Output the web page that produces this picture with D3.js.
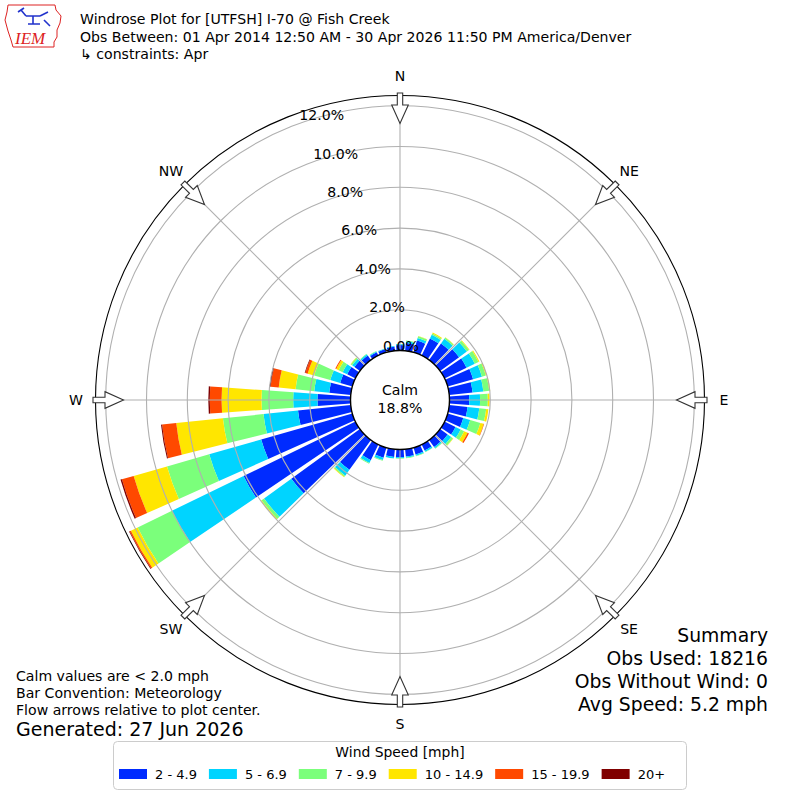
<!DOCTYPE html>
<html>
<head>
<meta charset="utf-8">
<script src="https://cdn.jsdelivr.net/npm/d3@7"></script>
<style>
    body { margin: 0; background: #fff; }
    svg { font-family: "DejaVu Sans", sans-serif; }
</style>
</head>
<body>
<script>
// wind direction bins (deg, where the wind blows from)
var directions = [0, 10, 20, 30, 40, 50, 60, 70, 80, 90, 100, 110, 120, 130, 140, 150, 160, 170,
    180, 190, 200, 210, 220, 230, 240, 250, 260, 270, 280, 290, 300, 310, 320, 330, 340, 350]

var speedBins = ['2 - 4.9', '5 - 6.9', '7 - 9.9', '10 - 14.9', '15 - 19.9', '20+']
var binColors = ['#002bff', '#00d4ff', '#7bff7b', '#ffe600', '#ff4900', '#800000']

// percent of observations per direction, one list per speed bin
var spd2to5 = [0.27, 0.38, 0.60, 0.93, 1.00, 1.15, 1.20, 1.30, 1.15, 0.97, 0.90, 0.80, 0.60, 0.46, 0.42, 0.33, 0.35, 0.36,
    0.38, 0.38, 0.52, 0.85, 1.80, 4.15, 6.10, 4.65, 2.60, 1.62, 1.06, 0.62, 0.45, 0.33, 0.27, 0.18, 0.17, 0.20]
var spd5to7 = [0.04, 0.09, 0.13, 0.20, 0.28, 0.47, 0.45, 0.45, 0.53, 0.53, 0.58, 0.35, 0.28, 0.21, 0.08, 0.07, 0.07, 0.06,
    0.05, 0.07, 0.11, 0.15, 0.35, 1.65, 3.90, 2.65, 1.70, 1.19, 0.74, 0.51, 0.25, 0.14, 0.07, 0.04, 0.03, 0.03]
var spd7to10 = [0.00, 0.03, 0.09, 0.07, 0.07, 0.13, 0.20, 0.20, 0.29, 0.38, 0.34, 0.52, 0.19, 0.11, 0.03, 0.02, 0.02, 0.02,
    0.02, 0.01, 0.04, 0.05, 0.07, 0.15, 1.87, 2.15, 2.00, 1.55, 0.92, 0.82, 0.22, 0.08, 0.03, 0.02, 0.00, 0.00]
var spd10to15 = [0, 0, 0.02, 0.05, 0.02, 0.03, 0.05, 0.05, 0.05, 0.09, 0.11, 0.17, 0.19, 0.02, 0, 0, 0, 0,
    0, 0, 0, 0, 0.03, 0.05, 0.37, 1.70, 2.30, 1.96, 0.83, 0.33, 0.13, 0.02, 0, 0, 0, 0]
var spd15to20 = [0, 0, 0, 0, 0, 0, 0, 0, 0, 0, 0, 0.02, 0.07, 0, 0, 0, 0, 0,
    0, 0, 0, 0, 0, 0, 0.07, 0.60, 0.70, 0.58, 0.40, 0.12, 0.05, 0, 0, 0, 0, 0]
var spd20up = [0, 0, 0, 0, 0, 0, 0, 0, 0, 0, 0, 0, 0, 0, 0, 0, 0, 0,
    0, 0, 0, 0, 0, 0, 0.03, 0.07, 0.05, 0.07, 0.05, 0.03, 0, 0, 0, 0, 0, 0]

var calmPct = 18.8
var ringTicks = [0, 2, 4, 6, 8, 10, 12]
var compassNames = ['N', 'NE', 'E', 'SE', 'S', 'SW', 'W', 'NW']
var compassAngles = [0, 45, 90, 135, 180, 225, 270, 315]

var titleLines = ['Windrose Plot for [UTFSH] I-70 @ Fish Creek',
    'Obs Between: 01 Apr 2014 12:50 AM - 30 Apr 2026 11:50 PM America/Denver',
    '\u21b3 constraints: Apr']
var noteLines = ['Calm values are < 2.0 mph', 'Bar Convention: Meteorology',
    'Flow arrows relative to plot center.']
var summaryLines = ['Summary', 'Obs Used: 18216', 'Obs Without Wind: 0', 'Avg Speed: 5.2 mph']

var binSeries = [spd2to5, spd5to7, spd7to10, spd10to15, spd15to20, spd20up]

var cx = 400, cy = 400
var r = d3.scaleLinear().domain([0, 12.5]).range([49.5, 304.5])
var halfWidth = 4.1 * Math.PI / 180

function toRad(deg) {
    return deg * Math.PI / 180
}

var svg = d3.select('body').append('svg')
    .attr('width', 800)
    .attr('height', 800)

// IEM logo, rough
var logo = svg.append('g')
logo.append('path')
    .attr('d', 'M8,5 L55,5 L56,10 L61,16 L60,23 L57,30 L57,37 L54,42 L54,47 L13,47 L11,40 L8,31 L5,20 L7,12 Z')
    .attr('fill', 'none')
    .attr('stroke', '#d22')
    .attr('stroke-width', 1)
logo.append('path')
    .attr('d', 'M18,12 L24,8 M21,10 L26,16 M26,16 L40,16 M33,16 L33,24 M28,24 L40,24 M40,16 L48,12 M44,20 L50,26')
    .attr('fill', 'none')
    .attr('stroke', '#2233cc')
    .attr('stroke-width', 1.6)
logo.append('text')
    .attr('x', 15)
    .attr('y', 44)
    .attr('font-family', '"Liberation Serif", serif')
    .attr('font-style', 'italic')
    .attr('font-size', 17)
    .attr('fill', '#d22')
    .text('IEM')

svg.append('g').selectAll('text')
    .data(titleLines)
    .enter()
    .append('text')
    .attr('x', 80)
    .attr('y', function (d, i) { return 24 + i * 17.5 })
    .attr('font-size', 14.1)
    .text(function (d) { return d })

var plot = svg.append('g')
    .attr('transform', 'translate(' + cx + ',' + cy + ')')

// stacked bars
var rows = directions.map(function (d, i) {
    var row = {dir: d}
    binSeries.forEach(function (s, j) { row[j] = s[i] })
    return row
})
var stacked = d3.stack().keys(d3.range(binSeries.length))(rows)

var arc = d3.arc()
    .innerRadius(function (d) { return r(d[0]) })
    .outerRadius(function (d) { return r(d[1]) })
    .startAngle(function (d) { return toRad(d.data.dir) - halfWidth })
    .endAngle(function (d) { return toRad(d.data.dir) + halfWidth })

plot.selectAll('g.layer')
    .data(stacked)
    .enter()
    .append('g')
    .attr('class', 'layer')
    .attr('fill', function (d, i) { return binColors[i] })
    .selectAll('path')
    .data(function (d) { return d.filter(function (s) { return s[1] > s[0] }) })
    .enter()
    .append('path')
    .attr('d', arc)

// grid on top of the bars
plot.selectAll('circle.ring')
    .data(ringTicks.slice(1))
    .enter()
    .append('circle')
    .attr('class', 'ring')
    .attr('r', function (d) { return r(d) })
    .attr('fill', 'none')
    .attr('stroke', '#b0b0b0')
    .attr('stroke-width', 1.1)

plot.selectAll('line.spoke')
    .data(compassAngles)
    .enter()
    .append('line')
    .attr('class', 'spoke')
    .attr('x1', function (d) { return Math.sin(toRad(d)) * r(0) })
    .attr('y1', function (d) { return -Math.cos(toRad(d)) * r(0) })
    .attr('x2', function (d) { return Math.sin(toRad(d)) * r(12.5) })
    .attr('y2', function (d) { return -Math.cos(toRad(d)) * r(12.5) })
    .attr('stroke', '#b0b0b0')
    .attr('stroke-width', 1.1)

plot.append('circle')
    .attr('r', r(12.5))
    .attr('fill', 'none')
    .attr('stroke', '#000')
    .attr('stroke-width', 1.1)

plot.append('circle')
    .attr('r', r(0))
    .attr('fill', '#fff')
    .attr('stroke', '#000')
    .attr('stroke-width', 1.4)

plot.append('text')
    .attr('text-anchor', 'middle')
    .attr('y', -5)
    .attr('font-size', 14.1)
    .text('Calm')
plot.append('text')
    .attr('text-anchor', 'middle')
    .attr('y', 13)
    .attr('font-size', 14.1)
    .text(calmPct.toFixed(1) + '%')

// radial tick labels
var labelAngle = toRad(-20)
plot.selectAll('text.rtick')
    .data(ringTicks)
    .enter()
    .append('text')
    .attr('class', 'rtick')
    .attr('x', function (d) { return Math.sin(labelAngle) * r(d) })
    .attr('y', function (d) { return -Math.cos(labelAngle) * r(d) - 3 })
    .attr('font-size', 14.1)
    .text(function (d) { return d.toFixed(1) + '%' })

// flow arrows, pointing to the center
var arrowPts = [[-2.7, -307], [2.7, -307], [2.7, -295], [8.3, -295], [0, -276.5], [-8.3, -295], [-2.7, -295]]
plot.selectAll('polygon.arrow')
    .data(compassAngles)
    .enter()
    .append('polygon')
    .attr('class', 'arrow')
    .attr('points', arrowPts.map(function (p) { return p.join(',') }).join(' '))
    .attr('transform', function (d) { return 'rotate(' + d + ')' })
    .attr('fill', '#fff')
    .attr('stroke', '#333')
    .attr('stroke-width', 1.1)

plot.selectAll('text.compass')
    .data(compassAngles)
    .enter()
    .append('text')
    .attr('class', 'compass')
    .attr('x', function (d) { return Math.sin(toRad(d)) * 324 })
    .attr('y', function (d) { return -Math.cos(toRad(d)) * 324 + 5 })
    .attr('text-anchor', 'middle')
    .attr('font-size', 14.1)
    .text(function (d, i) { return compassNames[i] })

// notes and summary
svg.append('g').selectAll('text')
    .data(noteLines)
    .enter()
    .append('text')
    .attr('x', 16)
    .attr('y', function (d, i) { return 681 + i * 17 })
    .attr('font-size', 14.1)
    .text(function (d) { return d })

svg.append('text')
    .attr('x', 16)
    .attr('y', 736)
    .attr('font-size', 19)
    .text('Generated: 27 Jun 2026')

svg.append('g').selectAll('text')
    .data(summaryLines)
    .enter()
    .append('text')
    .attr('x', 768)
    .attr('y', function (d, i) { return 642 + i * 23 })
    .attr('text-anchor', 'end')
    .attr('font-size', 18.8)
    .text(function (d) { return d })

// legend
var legend = svg.append('g')
legend.append('rect')
    .attr('x', 113.5)
    .attr('y', 741.5)
    .attr('width', 573)
    .attr('height', 48)
    .attr('rx', 4)
    .attr('fill', '#fff')
    .attr('stroke', '#ccc')
legend.append('text')
    .attr('x', 400)
    .attr('y', 757)
    .attr('text-anchor', 'middle')
    .attr('font-size', 13.9)
    .text('Wind Speed [mph]')

var lx = 119
speedBins.forEach(function (label, i) {
    legend.append('rect')
        .attr('x', lx)
        .attr('y', 769)
        .attr('width', 28)
        .attr('height', 10)
        .attr('fill', binColors[i])
    var t = legend.append('text')
        .attr('x', lx + 36)
        .attr('y', 779)
        .attr('font-size', 13)
        .text(label)
    lx += 36 + t.node().getComputedTextLength() + 12
})
</script>
</body>
</html>
